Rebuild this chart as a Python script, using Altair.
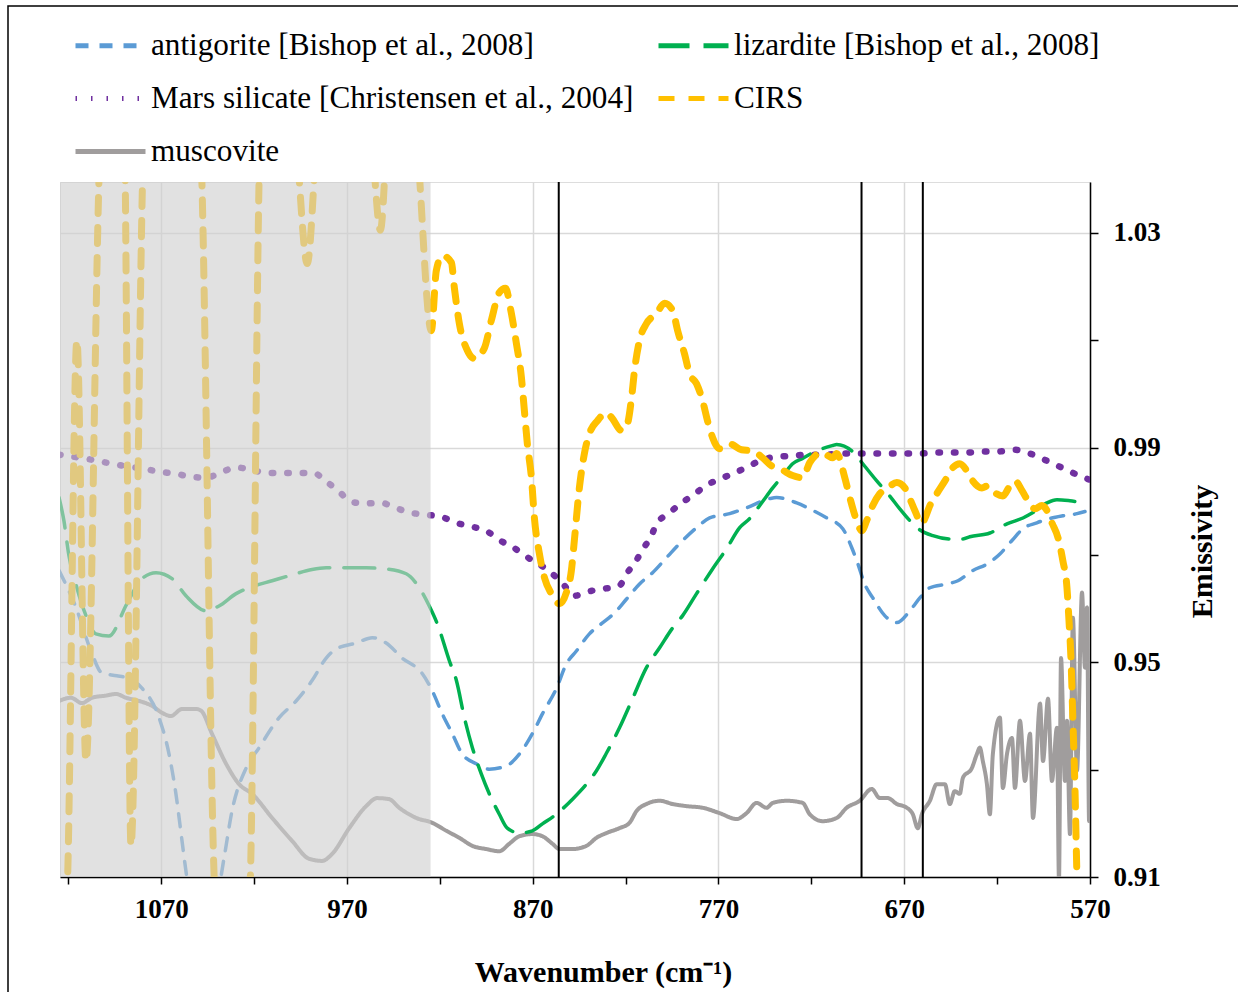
import altair as alt
import pandas as pd

# ---------------- data ----------------
SERIES = [
    "antigorite [Bishop et al., 2008]",
    "lizardite [Bishop et al., 2008]",
    "Mars silicate [Christensen et al., 2004]",
    "CIRS",
    "muscovite",
]
COLORS = ["#5B9BD5", "#00B050", "#7030A0", "#FFC000", "#A09D9D"]
DASHES = [[13, 11], [31, 14], [1.5, 14], [16, 14], [1, 0]]
WIDTHS = [3.5, 3.5, 6.5, 7, 4]

ANTI_WN = [1125.0, 1115.9, 1107.8, 1101.9, 1093.9, 1088.5, 1080.4, 1071.2, 1065.8, 1062.1, 1058.8,
           1056.7, 1047.0, 1036.2, 1031.9, 1024.3, 1017.3, 1006.5, 997.4, 988.8, 981.2, 975.8,
           965.0, 956.4, 948.9, 940.3, 929.5, 924.1, 918.7, 913.3, 907.9, 900.4, 893.4, 884.2,
           877.2, 870.2, 864.8, 857.3, 851.9, 846.5, 839.5, 833.0, 826.0, 819.5, 812.5, 805.5,
           798.0, 789.3, 781.8, 774.8, 764.0, 754.9, 742.5, 738.7, 727.9, 720.9, 711.7, 703.1,
           698.3, 695.0, 691.3, 686.9, 680.5, 674.0, 667.0, 661.6, 656.2, 647.1, 641.1, 633.1,
           625.0, 618.5, 612.0, 606.1, 598.6, 591.6, 584.6, 577.0, 572.7]
ANTI_E = [0.9671, 0.9602, 0.9521, 0.9480, 0.9475, 0.9471, 0.9452, 0.9397, 0.9329, 0.9255, 0.9167,
          0.9111, 0.8943, 0.9135, 0.9223, 0.9303, 0.9341, 0.9397, 0.9428, 0.9466, 0.9508, 0.9525,
          0.9536, 0.9546, 0.9536, 0.9508, 0.9479, 0.9447, 0.9404, 0.9367, 0.9329, 0.9311, 0.9301,
          0.9307, 0.9329, 0.9367, 0.9404, 0.9451, 0.9497, 0.9521, 0.9553, 0.9572, 0.9592, 0.9618,
          0.9646, 0.9667, 0.9695, 0.9727, 0.9751, 0.9769, 0.9777, 0.9788, 0.9805, 0.9807, 0.9797,
          0.9786, 0.9769, 0.9749, 0.9714, 0.9684, 0.9646, 0.9620, 0.9587, 0.9574, 0.9596, 0.9620,
          0.9639, 0.9646, 0.9652, 0.9671, 0.9684, 0.9702, 0.9727, 0.9749, 0.9760, 0.9768, 0.9773,
          0.9777, 0.9781]

LIZ_WN = [1125.0, 1122.4, 1119.7, 1115.4, 1110.5, 1105.2, 1098.2, 1088.5, 1080.4, 1072.8, 1064.2,
          1056.7, 1045.9, 1038.9, 1029.7, 1021.1, 1010.3, 999.5, 988.8, 981.2, 968.8, 959.7, 948.9,
          938.1, 931.1, 925.7, 921.4, 914.9, 911.1, 906.8, 902.5, 897.7, 893.4, 888.0, 883.7,
          877.2, 870.2, 864.8, 857.3, 848.6, 841.1, 835.7, 830.3, 823.3, 816.3, 808.8, 801.7,
          794.7, 789.3, 781.8, 773.2, 765.6, 758.6, 753.2, 746.8, 740.8, 734.4, 730.1, 724.7,
          717.1, 708.5, 706.4, 696.7, 692.3, 684.8, 677.8, 672.4, 667.0, 663.2, 654.6, 645.5,
          638.4, 634.7, 623.9, 614.7, 606.1, 600.7, 593.2, 587.8, 580.8, 576.5]
LIZ_E = [0.9807, 0.9764, 0.9699, 0.9639, 0.9587, 0.9553, 0.9549, 0.9609, 0.9656, 0.9667, 0.9656,
         0.9624, 0.9596, 0.9605, 0.9628, 0.9641, 0.9652, 0.9663, 0.9673, 0.9676, 0.9676, 0.9676,
         0.9674, 0.9665, 0.9639, 0.9605, 0.9572, 0.9503, 0.9466, 0.9397, 0.9341, 0.9292, 0.9255,
         0.9217, 0.9191, 0.9182, 0.9186, 0.9199, 0.9217, 0.9245, 0.9273, 0.9298, 0.9331, 0.9378,
         0.9432, 0.9490, 0.9527, 0.9564, 0.9587, 0.9628, 0.9674, 0.9712, 0.9751, 0.9768, 0.9797,
         0.9825, 0.9852, 0.9870, 0.9880, 0.9894, 0.9904, 0.9906, 0.9889, 0.9870, 0.9838, 0.9810,
         0.9786, 0.9764, 0.9751, 0.9736, 0.9730, 0.9730, 0.9734, 0.9741, 0.9758, 0.9769, 0.9779,
         0.9797, 0.9803, 0.9801, 0.9799]

MARS_WN = [1125.0, 1121.3, 1113.3, 1105.2, 1096.5, 1087.9, 1079.3, 1071.2, 1063.1, 1054.5, 1045.9,
           1038.3, 1029.7, 1021.6, 1013.6, 1004.9, 996.3, 988.2, 981.2, 974.2, 967.7, 960.2, 951.6,
           944.0, 935.9, 927.3, 919.2, 911.1, 903.1, 895.0, 888.0, 880.4, 873.4, 859.4, 853.5,
           847.6, 840.0, 831.9, 823.3, 819.5, 814.7, 810.9, 806.1, 803.4, 796.9, 790.4, 783.4,
           777.0, 768.9, 761.3, 753.8, 746.2, 737.6, 729.5, 721.9, 712.8, 703.7, 695.6, 687.0,
           678.9, 669.7, 661.6, 653.0, 644.4, 635.7, 627.1, 619.0, 610.4, 602.3, 594.8, 587.2,
           579.2, 571.6, 570.0]
MARS_E = [0.9887, 0.9885, 0.9881, 0.9876, 0.9870, 0.9865, 0.9861, 0.9855, 0.9852, 0.9846, 0.9844,
          0.9853, 0.9863, 0.9859, 0.9853, 0.9853, 0.9853, 0.9853, 0.9837, 0.9818, 0.9799, 0.9796,
          0.9797, 0.9788, 0.9779, 0.9775, 0.9771, 0.9760, 0.9753, 0.9745, 0.9728, 0.9714, 0.9697,
          0.9665, 0.9645, 0.9624, 0.9632, 0.9637, 0.9643, 0.9665, 0.9687, 0.9710, 0.9736, 0.9758,
          0.9777, 0.9796, 0.9812, 0.9829, 0.9842, 0.9853, 0.9865, 0.9878, 0.9883, 0.9885, 0.9887,
          0.9887, 0.9889, 0.9889, 0.9889, 0.9889, 0.9889, 0.9889, 0.9891, 0.9891, 0.9891, 0.9893,
          0.9893, 0.9896, 0.9889, 0.9878, 0.9866, 0.9853, 0.9842, 0.9840]

CIRS_WN = [1124.5, 1121.0, 1115.4, 1110.5, 1102.0, 1090.0, 1086.3, 1078.8, 1049.6, 1040.5, 1022.7,
           1016.3, 998.9, 991.4, 985.0, 958.0, 952.0, 947.5, 934.0, 924.6, 921.9, 918.7, 913.8,
           912.2, 909.5, 905.2, 901.4, 896.1, 892.3, 888.0, 884.7, 881.5, 878.8, 876.1, 874.5,
           872.9, 870.7, 869.1, 866.4, 863.7, 860.0, 855.6, 851.9, 849.2, 847.6, 844.9, 842.2,
           839.5, 835.2, 830.3, 827.1, 822.2, 819.0, 816.8, 815.2, 812.5, 808.8, 803.4, 799.0,
           794.7, 792.0, 788.3, 785.6, 781.8, 778.6, 775.9, 773.2, 769.4, 764.0, 757.6, 751.6,
           746.2, 741.4, 737.1, 730.1, 724.7, 720.9, 714.4, 708.5, 706.4, 702.0, 699.3, 695.6,
           692.9, 690.2, 687.5, 683.2, 678.9, 674.0, 669.7, 667.0, 664.3, 660.5, 658.9, 656.2,
           652.5, 648.1, 643.8, 640.1, 636.3, 633.1, 628.2, 625.0, 621.2, 616.9, 613.1, 610.4,
           606.6, 603.4, 599.6, 595.9, 593.2, 590.5, 587.2, 584.6, 582.4, 581.3, 580.2, 579.2,
           578.1, 577.5, 577.0, 576.5]
CIRS_E = [0.900, 0.905, 1.010, 0.9316, 1.050, 1.050, 0.9158, 1.050, 1.050, 0.905, 0.905,
          1.050, 1.050, 1.0243, 1.050, 1.050, 1.0305, 1.050, 1.050, 1.0118, 1.0230, 1.0258, 1.0245,
          1.0198, 1.0131, 1.0081, 1.0066, 1.0085, 1.0137, 1.0189, 1.0197, 1.0150, 1.0094, 1.0031, 0.9969,
          0.9907, 0.9844, 0.9769, 0.9702, 0.9658, 0.9628, 0.9609, 0.9630, 0.9671, 0.9727, 0.9825, 0.9889,
          0.9926, 0.9950, 0.9965, 0.9954, 0.9932, 0.9945, 0.9993, 1.0044, 1.0100, 1.0131, 1.0150, 1.0169,
          1.0156, 1.0118, 1.0075, 1.0038, 1.0019, 0.9988, 0.9950, 0.9919, 0.9898, 0.9907, 0.9896, 0.9894,
          0.9881, 0.9866, 0.9861, 0.9848, 0.9844, 0.9872, 0.9891, 0.9881, 0.9889, 0.9844, 0.9807, 0.9764,
          0.9745, 0.9764, 0.9788, 0.9814, 0.9825, 0.9835, 0.9825, 0.9805, 0.9783, 0.9758, 0.9768, 0.9792,
          0.9814, 0.9838, 0.9863, 0.9870, 0.9857, 0.9838, 0.9825, 0.9829, 0.9816, 0.9810, 0.9829, 0.9838,
          0.9820, 0.9801, 0.9786, 0.9792, 0.9783, 0.9760, 0.9732, 0.9689, 0.9639, 0.9577, 0.9503, 0.9391,
          0.9266, 0.9173, 0.9093, 0.900]

MUSC_WN = [1125.0, 1118.6, 1112.7, 1107.3, 1099.8, 1094.4, 1089.0, 1082.0, 1075.0, 1069.6, 1064.8,
           1058.8, 1051.3, 1048.6, 1042.7, 1035.1, 1028.1, 1021.1, 1010.3, 999.5, 990.4, 983.4,
           978.0, 968.8, 959.7, 953.7, 947.3, 941.9, 932.7, 924.1, 916.5, 909.5, 902.5, 895.0,
           888.0, 882.6, 877.2, 870.2, 864.8, 859.4, 855.6, 848.6, 841.1, 835.7, 830.3, 823.3,
           817.9, 814.1, 808.8, 801.7, 794.7, 787.2, 778.6, 769.4, 760.2, 754.9, 749.5, 744.1,
           740.8, 733.3, 724.7, 720.9, 713.9, 706.4, 701.0, 694.0, 687.5, 683.2, 678.9, 674.0,
           668.6, 665.4, 662.7, 660.5, 656.2, 652.5, 648.1, 645.5, 642.8, 640.1, 638.4, 633.6,
           630.9, 629.3, 627.7, 625.5, 623.9, 622.3, 618.5, 616.9, 614.7, 612.0, 610.4, 607.7,
           605.0, 602.3, 600.7, 596.9, 595.3, 592.6, 590.5, 587.8, 586.7, 585.6, 583.5, 582.4,
           580.8, 579.2, 577.0, 574.3, 572.7, 571.6, 570.5, 570.0]
MUSC_E = [0.9428, 0.9434, 0.9424, 0.9434, 0.9438, 0.9441, 0.9434, 0.9428, 0.9419, 0.9406, 0.9400,
          0.9413, 0.9413, 0.9410, 0.9367, 0.9311, 0.9273, 0.9255, 0.9210, 0.9167, 0.9134, 0.9130,
          0.9143, 0.9191, 0.9232, 0.9247, 0.9245, 0.9229, 0.9210, 0.9201, 0.9186, 0.9173, 0.9158, 0.9152,
          0.9148, 0.9162, 0.9176, 0.9180, 0.9176, 0.9162, 0.9152, 0.9152, 0.9158, 0.9173, 0.9182, 0.9191,
          0.9201, 0.9223, 0.9236, 0.9242, 0.9236, 0.9232, 0.9229, 0.9219, 0.9208, 0.9219, 0.9238, 0.9229,
          0.9238, 0.9242, 0.9238, 0.9217, 0.9204, 0.9210, 0.9229, 0.9242, 0.9264, 0.9247, 0.9247, 0.9236,
          0.9229, 0.9217, 0.9191, 0.9217, 0.9242, 0.9273, 0.9273, 0.9236, 0.9260, 0.9255, 0.9285, 0.9303,
          0.9329, 0.9341, 0.9316, 0.9273, 0.9217, 0.9329, 0.9397, 0.9266, 0.9329, 0.9359, 0.9266, 0.9391,
          0.9279, 0.9367, 0.9210, 0.9423, 0.9316, 0.9432, 0.9279, 0.9378, 0.9093, 0.9508, 0.9279, 0.9391,
          0.9180, 0.9583, 0.9298, 0.9630, 0.9490, 0.9602, 0.9204, 0.9466]

MARKER_WN = [856, 693, 660]          # black vertical lines
SHADE_START, SHADE_END = 1124.5, 925  # grey shaded band
X_MIN, X_MAX = 570, 1124.5
Y_MIN, Y_MAX = 0.91, 1.0395
X_TICKS = list(range(570, 1121, 50))
Y_TICKS = [0.91, 0.93, 0.95, 0.97, 0.99, 1.01, 1.03]

# ---------------- chart ----------------
FONT = "Liberation Serif"
x_scale = alt.Scale(domain=[X_MIN, X_MAX], reverse=True, nice=False, zero=False)
y_scale = alt.Scale(domain=[Y_MIN, Y_MAX], nice=False, zero=False)

x_axis = alt.Axis(
    values=X_TICKS,
    labelExpr="datum.value % 100 == 70 ? datum.value : ''",
    gridOpacity={"condition": {"test": "datum.value % 100 == 70", "value": 1}, "value": 0},
    grid=True, gridColor="#d9d9d9", gridWidth=1.5,
    domainColor="black", domainWidth=1.5, tickColor="black", tickWidth=1.5, tickSize=7,
    labelFont=FONT, labelFontWeight="bold", labelFontSize=27, labelColor="black", labelPadding=12,
    labelFlush=False, labelOverlap=False,
    title="Wavenumber (cm\u207b\u00b9)", titleFont=FONT, titleFontWeight="bold", titleFontSize=30,
    titleColor="black", titleX=543, titleY=95, titleAlign="center", titleBaseline="middle",
)
y_axis = alt.Axis(
    orient="right", values=Y_TICKS, format=".2f",
    labelExpr="round(datum.value * 100) % 4 == 3 ? datum.label : ''",
    gridOpacity={"condition": {"test": "round(datum.value * 100) % 4 == 3", "value": 1}, "value": 0},
    grid=True, gridColor="#d9d9d9", gridWidth=1.5,
    domainColor="black", domainWidth=1.5, tickColor="black", tickWidth=1.5, tickSize=8,
    labelFont=FONT, labelFontWeight="bold", labelFontSize=27, labelColor="black", labelPadding=15,
    labelFlush=False, labelOverlap=False,
    title="Emissivity", titleFont=FONT, titleFontWeight="bold", titleFontSize=30, titleColor="black",
    titleAngle=270, titleX=112, titleY=369, titleAlign="center", titleBaseline="middle",
)
legend = alt.Legend(
    title=None, orient="none", legendX=13, legendY=-174, columns=2, direction="horizontal",
    symbolType="stroke", symbolSize=4900, symbolStrokeWidth=5,
    labelFont=FONT, labelFontSize=31.2, labelColor="black",
    labelLimit=0, labelOffset=3, rowPadding=0, columnPadding=14,
)

def series_layer(idx, wn, em):
    name = SERIES[idx]
    df = pd.DataFrame({"wavenumber": wn, "emissivity": em, "series": name})
    return alt.Chart(df).mark_line(
        clip=True, strokeCap="round", strokeJoin="round", interpolate="monotone",
        strokeWidth=WIDTHS[idx],
    ).encode(
        x=alt.X("wavenumber:Q", scale=x_scale, axis=x_axis),
        y=alt.Y("emissivity:Q", scale=y_scale, axis=y_axis),
        color=alt.Color("series:N", scale=alt.Scale(domain=SERIES, range=COLORS), legend=legend),
        strokeDash=alt.StrokeDash("series:N", scale=alt.Scale(domain=SERIES, range=DASHES), legend=legend),
    )

lines = [
    series_layer(4, MUSC_WN, MUSC_E),
    series_layer(0, ANTI_WN, ANTI_E),
    series_layer(1, LIZ_WN, LIZ_E),
    series_layer(2, MARS_WN, MARS_E),
    series_layer(3, CIRS_WN, CIRS_E),
]

rules = alt.Chart(pd.DataFrame({"wn": MARKER_WN})).mark_rule(color="black", strokeWidth=2).encode(
    x=alt.X("wn:Q", scale=x_scale)
)

shade = alt.Chart(pd.DataFrame({"start": [SHADE_START], "end": [SHADE_END]})).mark_rect(
    color="#CFCFCF", opacity=0.62
).encode(
    x=alt.X("start:Q", scale=x_scale), x2="end:Q",
    y=alt.datum(Y_MAX), y2=alt.datum(Y_MIN),
)

frame = alt.Chart(pd.DataFrame({"k": [0]})).mark_rect(
    fillOpacity=0, stroke="black", strokeWidth=1.5, clip=False
).encode(
    x=alt.value(-52), x2=alt.value(1200), y=alt.value(-176), y2=alt.value(850)
)

chart = alt.layer(*lines, rules, shade, frame).properties(
    width=1030, height=695,
    padding={"left": 60, "top": 182, "right": 148, "bottom": 115},
    autosize="none",
).configure_view(stroke="black", strokeWidth=1.5).configure(background="white")

chart.save("out.html", embed_options={"renderer": "svg", "actions": False})
